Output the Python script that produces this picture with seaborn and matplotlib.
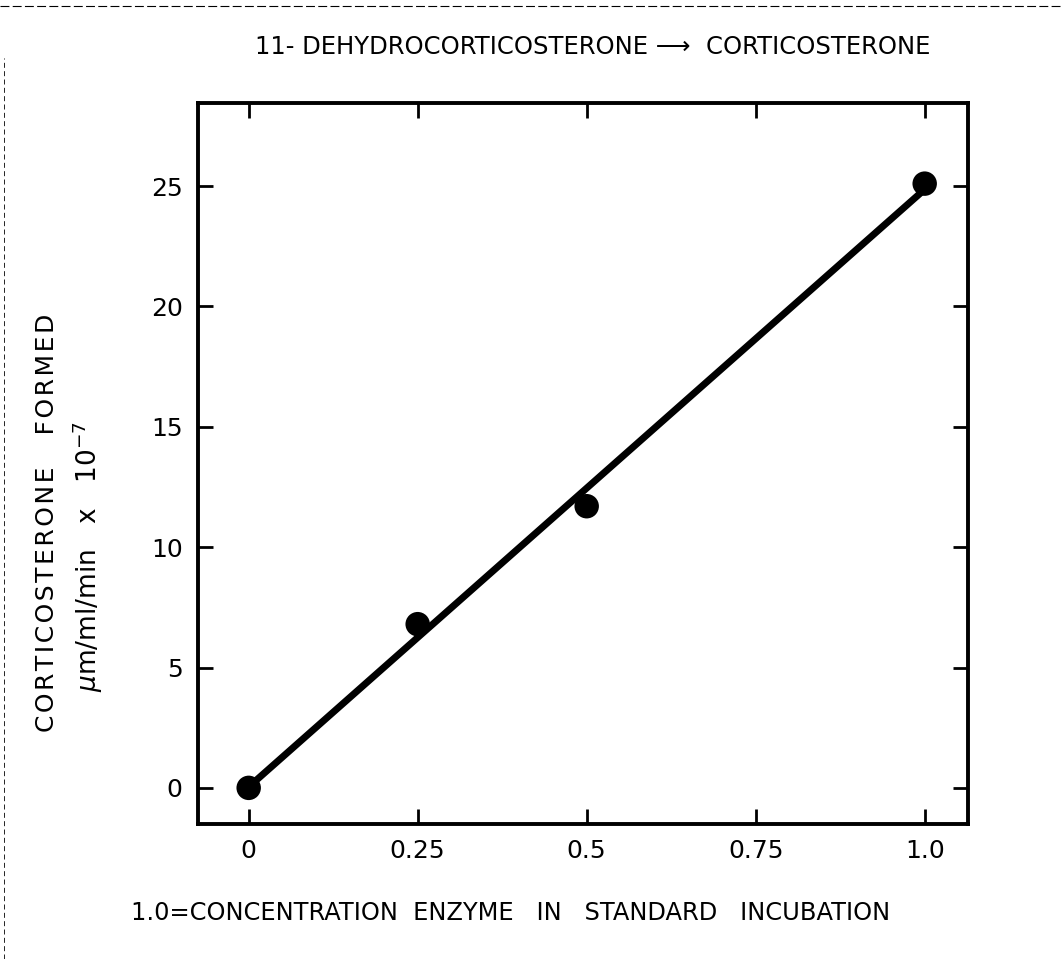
import matplotlib
matplotlib.use("Agg")
import matplotlib.pyplot as plt
import matplotlib.lines as mlines
import numpy as np
import pandas as pd
import seaborn as sns

# Enzyme concentration (1.0 = standard incubation) and corticosterone formed
enzyme_conc = [0.0, 0.25, 0.5, 1.0]
cort_formed = [0.0, 6.8, 11.7, 25.1]

x_ticks = [0, 0.25, 0.5, 0.75, 1.0]
x_tick_labels = ["0", "0.25", "0.5", "0.75", "1.0"]
y_ticks = [0, 5, 10, 15, 20, 25]
y_tick_labels = ["0", "5", "10", "15", "20", "25"]

title_text = "11- DEHYDROCORTICOSTERONE \u27f6  CORTICOSTERONE"
xlabel_text = "1.0=CONCENTRATION  ENZYME   IN   STANDARD   INCUBATION"
ylabel_line1 = "\u200a".join("CORTICOSTERONE") + "    " + "\u200a".join("FORMED")
ylabel_line2 = r"$\mu$m/ml/min   x   10$^{-7}$"

df = pd.DataFrame({"conc": enzyme_conc, "formed": cort_formed})

sns.set_style("ticks")
plt.rcParams["font.family"] = ["DejaVu Sans"]
plt.rcParams["mathtext.fontset"] = "dejavusans"

fig = plt.figure(figsize=(10.61, 9.59), dpi=100)
ax = fig.add_axes([0.1866, 0.1408, 0.7257, 0.7518])

sns.regplot(
    data=df, x="conc", y="formed", ax=ax, ci=None, truncate=True,
    scatter_kws=dict(s=310, color="black", edgecolor="none", zorder=3, alpha=1),
    line_kws=dict(color="black", linewidth=5.0, solid_capstyle="butt", zorder=2),
)

ax.set_xlim(-0.075, 1.064)
ax.set_ylim(-1.5, 28.45)
ax.set_xticks(x_ticks)
ax.set_xticklabels(x_tick_labels)
ax.set_yticks(y_ticks)
ax.set_yticklabels(y_tick_labels)
ax.set_xlabel("")
ax.set_ylabel("")

ax.tick_params(axis="both", which="major", direction="in", length=11, width=2.0,
               top=True, right=True, labelsize=18, pad=11, colors="black")
for sp in ax.spines.values():
    sp.set_visible(True)
    sp.set_linewidth(2.8)
    sp.set_color("black")

fig.text(0.559, 0.951, title_text, ha="center", va="center", fontsize=17.5,
         color="black")
fig.text(0.481, 0.048, xlabel_text, ha="center", va="center", fontsize=17.4,
         color="black")
fig.text(0.044, 0.455, ylabel_line1, ha="center", va="center", rotation=90,
         fontsize=18, color="black")
fig.text(0.083, 0.42, ylabel_line2, ha="center", va="center", rotation=90,
         fontsize=19, color="black")

# scanned page edge
fig.add_artist(mlines.Line2D([0.0, 1.0], [0.994, 0.994], transform=fig.transFigure,
                             color="black", lw=0.8, ls=(0, (8, 3))))
fig.add_artist(mlines.Line2D([0.004, 0.004], [0.0, 0.94], transform=fig.transFigure,
                             color="black", lw=0.6, ls=(0, (6, 4))))

fig.savefig("out.png", dpi=100, facecolor="white")
